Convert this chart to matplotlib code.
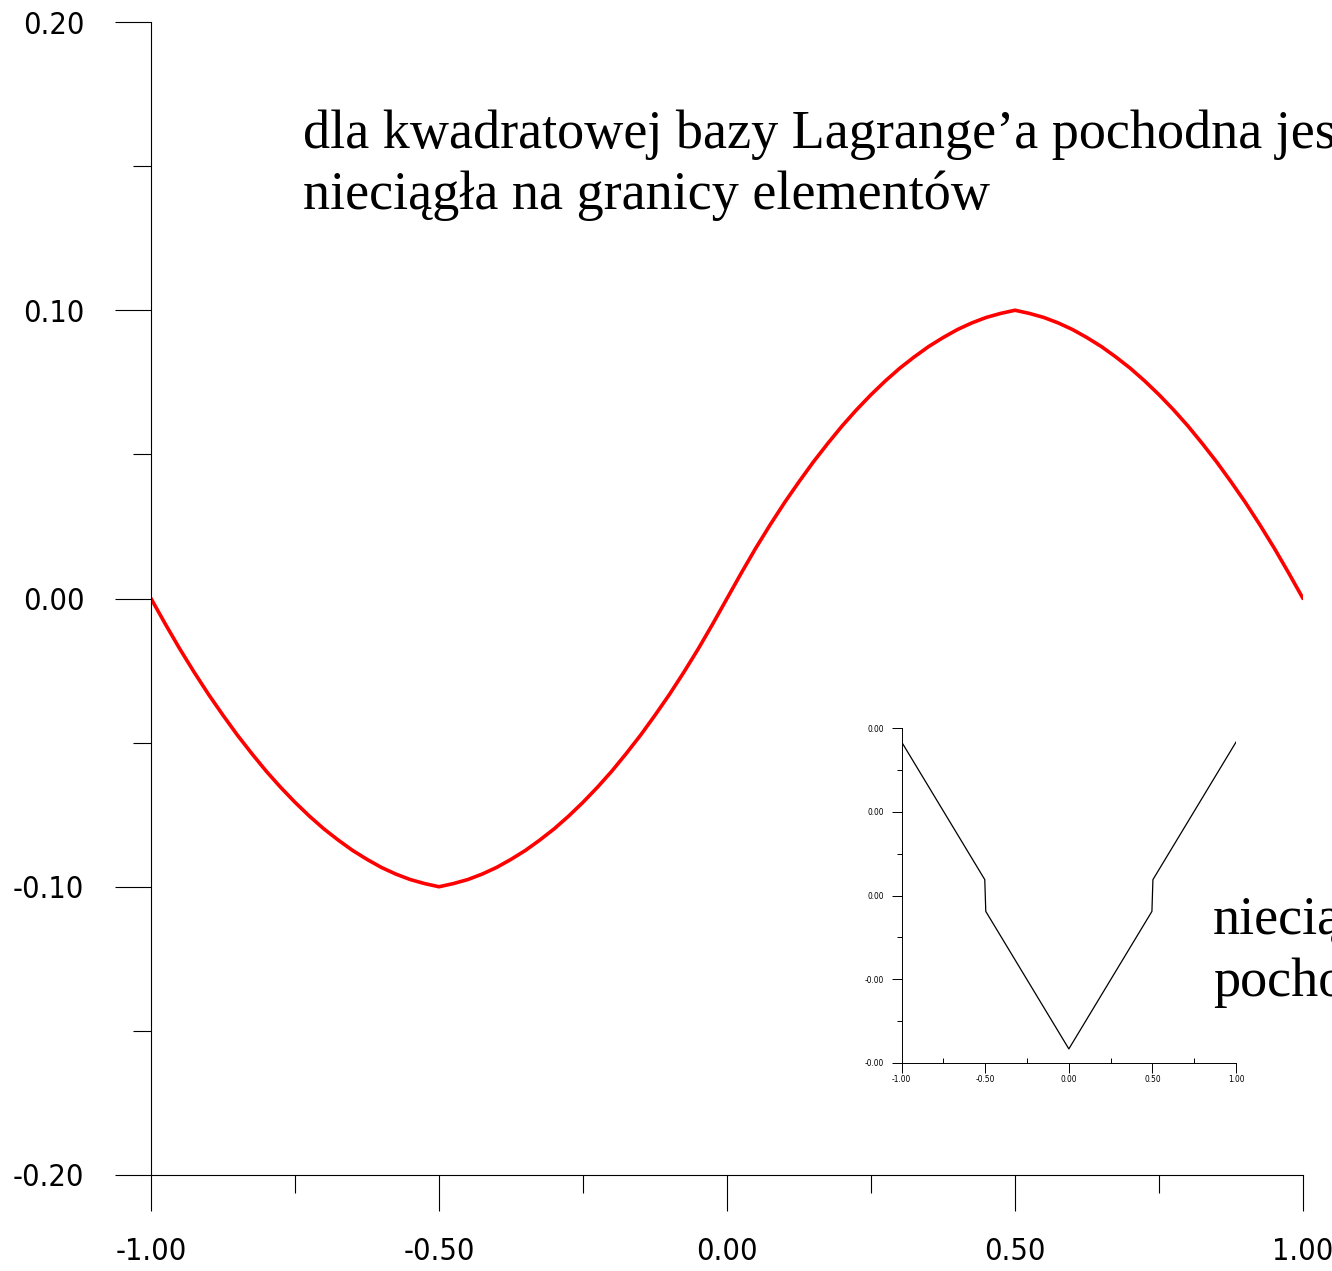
import matplotlib
matplotlib.use("Agg")
import matplotlib.pyplot as plt
from matplotlib import font_manager
from matplotlib.ticker import FixedLocator, MultipleLocator, FixedFormatter

# Quadratic Lagrange approximation sampled along [-1, 1]
x_vals = [-1.000, -0.975, -0.950, -0.925, -0.900, -0.875, -0.850, -0.825, -0.800, -0.775,
          -0.750, -0.725, -0.700, -0.675, -0.650, -0.625, -0.600, -0.575, -0.550, -0.525,
          -0.500, -0.475, -0.450, -0.425, -0.400, -0.375, -0.350, -0.325, -0.300, -0.275,
          -0.250, -0.225, -0.200, -0.175, -0.150, -0.125, -0.100, -0.075, -0.050, -0.025,
          0.000, 0.025, 0.050, 0.075, 0.100, 0.125, 0.150, 0.175, 0.200, 0.225,
          0.250, 0.275, 0.300, 0.325, 0.350, 0.375, 0.400, 0.425, 0.450, 0.475,
          0.500, 0.525, 0.550, 0.575, 0.600, 0.625, 0.650, 0.675, 0.700, 0.725,
          0.750, 0.775, 0.800, 0.825, 0.850, 0.875, 0.900, 0.925, 0.950, 0.975, 1.000]
y_vals = [0.0000, -0.0089, -0.0175, -0.0256, -0.0333, -0.0405, -0.0474, -0.0538, -0.0599, -0.0655,
          -0.0707, -0.0755, -0.0799, -0.0838, -0.0874, -0.0905, -0.0933, -0.0956, -0.0975, -0.0989,
          -0.1000, -0.0989, -0.0975, -0.0956, -0.0933, -0.0905, -0.0874, -0.0838, -0.0799, -0.0755,
          -0.0707, -0.0655, -0.0599, -0.0538, -0.0474, -0.0405, -0.0333, -0.0256, -0.0175, -0.0089,
          0.0000, 0.0089, 0.0175, 0.0256, 0.0333, 0.0405, 0.0474, 0.0538, 0.0599, 0.0655,
          0.0707, 0.0755, 0.0799, 0.0838, 0.0874, 0.0905, 0.0933, 0.0956, 0.0975, 0.0989,
          0.1000, 0.0989, 0.0975, 0.0956, 0.0933, 0.0905, 0.0874, 0.0838, 0.0799, 0.0755,
          0.0707, 0.0655, 0.0599, 0.0538, 0.0474, 0.0405, 0.0333, 0.0256, 0.0175, 0.0089, 0.0000]

# Derivative (sign-flipped) of the approximation, jumping at element borders
dx_vals = [-1.0, -0.503, -0.497, 0.0, 0.497, 0.503, 1.0]
dy_vals = [0.367, 0.038, -0.038, -0.367, -0.038, 0.038, 0.367]

main_xticks = [-1.0, -0.5, 0.0, 0.5, 1.0]
main_xlabels = ["-1.00", "-0.50", "0.00", "0.50", "1.00"]
main_yticks = [-0.2, -0.1, 0.0, 0.1, 0.2]
main_ylabels = ["-0.20", "-0.10", "0.00", "0.10", "0.20"]

inset_xticks = [-1.0, -0.5, 0.0, 0.5, 1.0]
inset_xlabels = ["-1.00", "-0.50", "0.00", "0.50", "1.00"]
inset_yticks = [-0.4, -0.2, 0.0, 0.2, 0.4]
inset_ylabels = ["-0.00", "-0.00", "0.00", "0.00", "0.00"]

title_lines = ["dla kwadratowej bazy Lagrange\u2019a pochodna jest",
               "nieci\u0105g\u0142a na granicy element\u00f3w"]
note_lines = ["nieci\u0105g\u0142a", "pochodna"]

available = {f.name for f in font_manager.fontManager.ttflist}
tick_family = next((n for n in ["Liberation Sans Narrow", "DejaVu Sans"] if n in available),
                   "DejaVu Sans")
serif_family = next((n for n in ["Liberation Serif", "DejaVu Serif"] if n in available),
                    "DejaVu Serif")

W, H = 1332, 1271
fig = plt.figure(figsize=(W / 100, H / 100), dpi=100)
fig.patch.set_facecolor("white")


def frac_box(left, top, right, bottom):
    return [left / W, 1 - bottom / H, (right - left) / W, (bottom - top) / H]


def style_axes(ax, major_len, minor_len, lw, fsize, xpad, ypad, xminor_dir="out"):
    for side in ("top", "right"):
        ax.spines[side].set_visible(False)
    for side in ("left", "bottom"):
        ax.spines[side].set_linewidth(lw)
        ax.spines[side].set_color("black")
    ax.tick_params(which="major", length=major_len, width=lw, color="black", direction="out")
    ax.tick_params(axis="y", which="minor", length=minor_len, width=lw, color="black",
                   direction="out")
    ax.tick_params(axis="x", which="minor", length=minor_len, width=lw, color="black",
                   direction=xminor_dir)
    ax.tick_params(axis="x", which="major", pad=xpad)
    ax.tick_params(axis="y", which="major", pad=ypad)
    for lab in ax.get_xticklabels() + ax.get_yticklabels():
        lab.set_fontfamily(tick_family)
        lab.set_fontstretch("condensed")
        lab.set_fontsize(fsize)


# Main panel
ax = fig.add_axes(frac_box(151, 22, 1303, 1175))
ax.plot(x_vals, y_vals, color="#ff0000", lw=2.6, solid_capstyle="round",
        solid_joinstyle="round")
ax.set_xlim(-1, 1)
ax.set_ylim(-0.2, 0.2)
ax.xaxis.set_major_locator(FixedLocator(main_xticks))
ax.xaxis.set_major_formatter(FixedFormatter(main_xlabels))
ax.yaxis.set_major_locator(FixedLocator(main_yticks))
ax.yaxis.set_major_formatter(FixedFormatter(main_ylabels))
ax.xaxis.set_minor_locator(MultipleLocator(0.25))
ax.yaxis.set_minor_locator(MultipleLocator(0.05))
style_axes(ax, 26, 13, 0.8, 22, 19, 22)

# Inset panel
axi = fig.add_axes(frac_box(901.7, 728.3, 1236, 1062.7))
axi.plot(dx_vals, dy_vals, color="black", lw=0.9)
axi.set_xlim(-1, 1)
axi.set_ylim(-0.4, 0.4)
axi.xaxis.set_major_locator(FixedLocator(inset_xticks))
axi.xaxis.set_major_formatter(FixedFormatter(inset_xlabels))
axi.yaxis.set_major_locator(FixedLocator(inset_yticks))
axi.yaxis.set_major_formatter(FixedFormatter(inset_ylabels))
axi.xaxis.set_minor_locator(MultipleLocator(0.25))
axi.yaxis.set_minor_locator(MultipleLocator(0.1))
axi.patch.set_alpha(0)
style_axes(axi, 7.5, 3.6, 0.7, 6, 1.5, 5.5, xminor_dir="in")

# Annotations
for i, line in enumerate(title_lines):
    fig.text(303 / W, 1 - (148 + 61 * i) / H, line, family=serif_family, fontsize=39,
             ha="left", va="baseline")
for i, line in enumerate(note_lines):
    fig.text(1213 / W, 1 - (934 + 62 * i) / H, line, family=serif_family, fontsize=39,
             ha="left", va="baseline")

fig.savefig("out.png", dpi=100, facecolor="white")
